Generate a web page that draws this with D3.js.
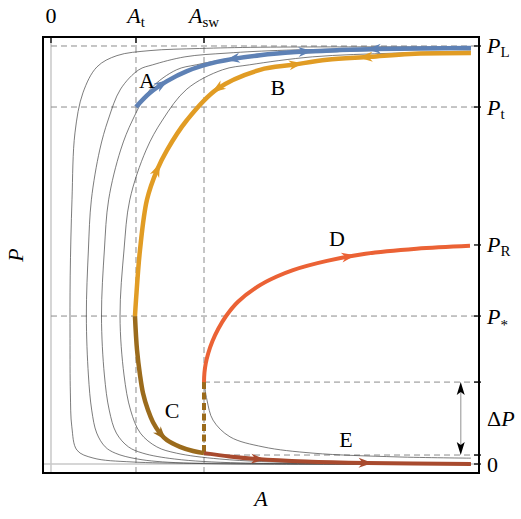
<!DOCTYPE html>
<html>
<head>
<meta charset="utf-8">
<script src="https://cdn.jsdelivr.net/npm/d3@7"></script>
<style>
  body { margin: 0; background: #fff; }
  text { font-family: "Liberation Serif", "Times New Roman", serif; fill: #000; }
</style>
</head>
<body>
<svg id="chart"></svg>
<script>
// A axis: A_t = 1, A_sw = 1.8 ; P axis: P_L = 1
const aTicks = [0, 1, 1.8];
const aTickNames = [["0", ""], ["A", "t"], ["A", "sw"]];
const pTicks = [1, 0.854, 0.524, 0.354, 0.196, 0.0215, 0];
const pTickNames = [["P", "L"], ["P", "t"], ["P", "R"], ["P", "*"], null, null, ["0", ""]];

// background family of trajectories (thin lines), [A, P]
const thin1 = [[4.94,0.998],[2.46,0.997],[1.75,0.994],[1.165,0.989],[0.776,0.977],[0.541,0.95],[0.376,0.888],[0.282,0.792],[0.247,0.632],[0.226,0.45],[0.224,0.3],[0.228,0.17],[0.245,0.089],[0.306,0.033],[0.494,0.0144],[0.965,0.0048],[2.5,0.0015],[4.94,0.0005]];
const thin2 = [[4.94,0.9965],[2.77,0.99],[2.07,0.983],[1.575,0.974],[1.197,0.955],[1.033,0.943],[0.819,0.897],[0.672,0.823],[0.573,0.751],[0.475,0.632],[0.44,0.512],[0.416,0.354],[0.44,0.213],[0.479,0.129],[0.538,0.074],[0.638,0.041],[0.756,0.026],[1.016,0.012],[1.562,0.0024],[4.94,0.0003]];
const thin3 = [[4.94,0.9933],[3.96,0.99],[2.96,0.983],[2.25,0.974],[1.71,0.955],[1.476,0.943],[1.17,0.897],[0.96,0.823],[0.819,0.751],[0.678,0.632],[0.628,0.512],[0.594,0.354],[0.628,0.213],[0.685,0.129],[0.769,0.074],[0.911,0.041],[1.08,0.026],[1.452,0.012],[2.232,0.0024],[4.94,0.0004]];
const thin4 = [[4.94,0.988],[4.05,0.983],[3.075,0.974],[2.337,0.955],[2.017,0.943],[1.599,0.897],[1.312,0.823],[1.119,0.751],[0.927,0.632],[0.859,0.512],[0.812,0.354],[0.859,0.213],[0.936,0.129],[1.051,0.074],[1.245,0.041],[1.476,0.026],[1.984,0.012],[3.05,0.0024],[4.94,0.0006]];
const thinRight = [[1.8,0.196],[1.835,0.153],[1.906,0.105],[2.106,0.065],[2.494,0.041],[3.082,0.026],[4.071,0.017],[4.94,0.014]];

// highlighted branches
const branchA = [[1.0,0.854],[1.165,0.888],[1.365,0.916],[1.6,0.94],[1.953,0.962],[2.459,0.978],[2.929,0.986],[3.365,0.99],[3.835,0.993],[4.94,0.995]];
const branchB = [[4.94,0.983],[4.224,0.981],[3.753,0.974],[3.247,0.967],[2.847,0.955],[2.459,0.943],[1.953,0.897],[1.6,0.823],[1.365,0.751],[1.247,0.703],[1.129,0.632],[1.047,0.512],[1.0,0.392],[0.988,0.354]];
const branchC = [[0.988,0.354],[1.012,0.273],[1.047,0.213],[1.082,0.17],[1.141,0.129],[1.2,0.1],[1.282,0.074],[1.365,0.057],[1.518,0.041],[1.671,0.031],[1.8,0.026]];
const branchD = [[1.8,0.196],[1.805,0.218],[1.82,0.24],[1.85,0.265],[1.9,0.294],[1.97,0.324],[2.06,0.354],[2.2,0.388],[2.459,0.428],[2.65,0.448],[2.847,0.464],[3.247,0.486],[3.7,0.503],[4.3,0.515],[4.929,0.522]];
const branchE = [[1.8,0.026],[2.1,0.018],[2.42,0.012],[3.0,0.006],[3.72,0.0024],[4.94,0.0]];
const jumpCE = [[1.8,0.196],[1.8,0.026]];

// arrow positions (A value along the branch, +1 along point order, -1 against)
const arrowsA = [[1.31,1],[2.14,-1],[2.99,1],[3.8,-1]];
const arrowsB = [[3.7,1],[2.88,-1],[1.96,1],[1.25,-1]];
const arrowsC = [[1.3,1]];
const arrowsD = [[3.5,1]];
const arrowsE = [[2.44,1],[3.7,1]];

const branchNames = ["A", "B", "C", "D", "E"];
const branchLabelA = [1.13, 2.67, 1.424, 3.365, 3.47];
const branchLabelP = [0.919, 0.9, 0.129, 0.541, 0.06];

const WIDTH = 521, HEIGHT = 519;
const frame = { left: 43, right: 479, top: 37, bottom: 473 };

const svg = d3.select("#chart").attr("width", WIDTH).attr("height", HEIGHT);

const x = d3.scaleLinear().domain([-0.094, 5.035]).range([frame.left, frame.right]);
const y = d3.scaleLinear().domain([-0.0215, 1.0215]).range([frame.bottom, frame.top]);

svg.append("defs").append("clipPath").attr("id", "clip")
  .append("rect")
  .attr("x", frame.left).attr("y", frame.top)
  .attr("width", frame.right - frame.left).attr("height", frame.bottom - frame.top);

const g = svg.append("g").attr("clip-path", "url(#clip)");

// zero lines
g.append("line").attr("x1", x(0)).attr("x2", x(0)).attr("y1", frame.top).attr("y2", frame.bottom)
  .attr("stroke", "#c8c8c8").attr("stroke-width", 1.5);
g.append("line").attr("x1", frame.left).attr("x2", frame.right).attr("y1", y(0)).attr("y2", y(0))
  .attr("stroke", "#c8c8c8").attr("stroke-width", 1.5);

// dashed guides
const dash = "6,4";
[1, 0.854, 0.354].forEach(p => {
  g.append("line").attr("x1", x(0)).attr("x2", frame.right).attr("y1", y(p)).attr("y2", y(p))
    .attr("stroke", "#8c8c8c").attr("stroke-width", 1).attr("stroke-dasharray", dash);
});
[0.196, 0.0215].forEach(p => {
  g.append("line").attr("x1", x(1.8)).attr("x2", frame.right).attr("y1", y(p)).attr("y2", y(p))
    .attr("stroke", "#8c8c8c").attr("stroke-width", 1).attr("stroke-dasharray", dash);
});
[1, 1.8].forEach(a => {
  g.append("line").attr("x1", x(a)).attr("x2", x(a)).attr("y1", frame.top).attr("y2", frame.bottom)
    .attr("stroke", "#8c8c8c").attr("stroke-width", 1).attr("stroke-dasharray", dash);
});

const line = d3.line()
  .x(d => x(d[0]))
  .y(d => y(d[1]))
  .curve(d3.curveCatmullRom.alpha(0.5));

// thin trajectories
[thin1, thin2, thin3, thin4, thinRight].forEach(c => {
  g.append("path").attr("d", line(c)).attr("fill", "none")
    .attr("stroke", "#444").attr("stroke-width", 0.7);
});

const colA = "#5e81b5", colB = "#e19c24", colC = "#9b6b1c", colD = "#eb6235", colE = "#a84a2e";

function branch(data, color, width) {
  return g.append("path").attr("d", line(data)).attr("fill", "none")
    .attr("stroke", color).attr("stroke-width", width);
}

// jump from D start down to C/E corner
g.append("path").attr("d", d3.line().x(d => x(d[0])).y(d => y(d[1]))(jumpCE))
  .attr("stroke", colC).attr("stroke-width", 4).attr("stroke-dasharray", "7,3.5").attr("fill", "none");

const pathE = branch(branchE, colE, 4);
const pathD = branch(branchD, colD, 4);
const pathC = branch(branchC, colC, 4.5);
const pathB = branch(branchB, colB, 4.5);
const pathA = branch(branchA, colA, 4.5);

const arrowL = 14, arrowW = 10;
const arrowShape = `M${arrowL / 2},0 L${-arrowL / 2},${-arrowW / 2} L${-arrowL / 2 + arrowL * 0.3},0 L${-arrowL / 2},${arrowW / 2} Z`;

function addArrows(path, list, color) {
  const node = path.node();
  const total = node.getTotalLength();
  list.forEach(([a, dir]) => {
    const tx = x(a);
    let best = 0, bestD = Infinity;
    for (let l = 0; l <= total; l += 0.5) {
      const p = node.getPointAtLength(l);
      const d = Math.abs(p.x - tx);
      if (d < bestD) { bestD = d; best = l; }
    }
    const p = node.getPointAtLength(best);
    const q = node.getPointAtLength(Math.min(total, best + 2));
    const r = node.getPointAtLength(Math.max(0, best - 2));
    let ang = Math.atan2(q.y - r.y, q.x - r.x) * 180 / Math.PI;
    if (dir < 0) ang += 180;
    g.append("path").attr("d", arrowShape)
      .attr("transform", `translate(${p.x},${p.y}) rotate(${ang})`)
      .attr("fill", color);
  });
}

addArrows(pathE, arrowsE, colE);
addArrows(pathD, arrowsD, colD);
addArrows(pathC, arrowsC, colC);
addArrows(pathB, arrowsB, colB);
addArrows(pathA, arrowsA, colA);

// branch labels
svg.selectAll(".branch-label")
  .data(branchNames)
  .enter()
  .append("text")
  .attr("class", "branch-label")
  .attr("x", (d, i) => x(branchLabelA[i]))
  .attr("y", (d, i) => y(branchLabelP[i]))
  .attr("dy", "0.35em")
  .attr("text-anchor", "middle")
  .style("font-size", "22px")
  .text(d => d);

// Delta P double arrow
const dpx = x(4.82);
svg.append("line").attr("x1", dpx).attr("x2", dpx).attr("y1", y(0.196) + 4).attr("y2", y(0.0215) - 4)
  .attr("stroke", "#b4b4b4").attr("stroke-width", 1.5);
svg.append("path").attr("d", `M${dpx},${y(0.196)} L${dpx - 4},${y(0.196) + 13} L${dpx},${y(0.196) + 10} L${dpx + 4},${y(0.196) + 13} Z`).attr("fill", "#000");
svg.append("path").attr("d", `M${dpx},${y(0.0215)} L${dpx - 4},${y(0.0215) - 13} L${dpx},${y(0.0215) - 10} L${dpx + 4},${y(0.0215) - 13} Z`).attr("fill", "#000");

// frame
svg.append("rect")
  .attr("x", frame.left).attr("y", frame.top)
  .attr("width", frame.right - frame.left).attr("height", frame.bottom - frame.top)
  .attr("fill", "none").attr("stroke", "#000").attr("stroke-width", 2);

// top ticks
aTicks.forEach((a, i) => {
  svg.append("line").attr("x1", x(a)).attr("x2", x(a)).attr("y1", frame.top).attr("y2", frame.top + 6)
    .attr("stroke", "#000").attr("stroke-width", 1.3);
  const t = svg.append("text").attr("x", x(a)).attr("y", 23).attr("text-anchor", "middle")
    .style("font-size", "22px");
  const [main, sub] = aTickNames[i];
  t.append("tspan").style("font-style", main === "0" ? "normal" : "italic").text(main);
  if (sub) t.append("tspan").attr("dy", 4).style("font-size", "15px").text(sub);
});

// right ticks
pTicks.forEach((p, i) => {
  svg.append("line").attr("x1", frame.right - 5).attr("x2", frame.right + 2).attr("y1", y(p)).attr("y2", y(p))
    .attr("stroke", "#000").attr("stroke-width", 1.3);
  const name = pTickNames[i];
  if (!name) return;
  const t = svg.append("text").attr("x", frame.right + 8).attr("y", y(p) + 7.5)
    .style("font-size", "22px");
  t.append("tspan").style("font-style", name[0] === "0" ? "normal" : "italic").text(name[0]);
  if (name[1]) t.append("tspan").attr("dy", name[1] === "*" ? 6 : 4).style("font-size", "15px").text(name[1]);
});

// Delta P label
const dpLabel = svg.append("text").attr("x", frame.right + 8).attr("y", (y(0.196) + y(0.0215)) / 2 + 7.5)
  .style("font-size", "22px");
dpLabel.append("tspan").text("\u0394");
dpLabel.append("tspan").style("font-style", "italic").text("P");

// axis titles
svg.append("text").attr("x", (frame.left + frame.right) / 2).attr("y", 506)
  .attr("text-anchor", "middle").style("font-size", "22px").style("font-style", "italic").text("A");
svg.append("text").attr("transform", `translate(23, ${(frame.top + frame.bottom) / 2}) rotate(-90)`)
  .attr("text-anchor", "middle").style("font-size", "22px").style("font-style", "italic").text("P");
</script>
</body>
</html>
